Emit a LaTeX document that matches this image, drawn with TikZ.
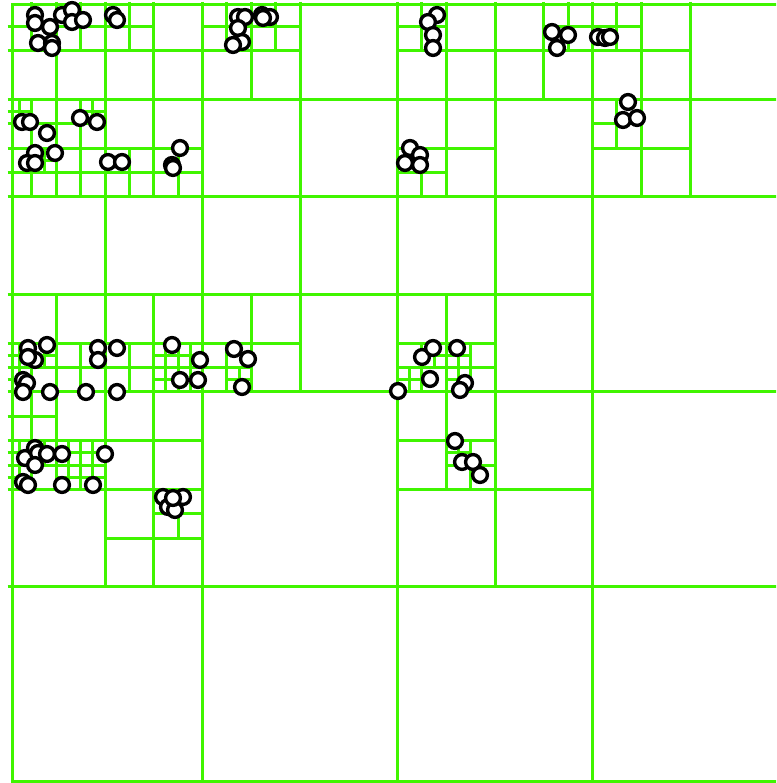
\documentclass[tikz,border=0pt]{standalone}
\definecolor{qgreen}{RGB}{64,245,0}
\begin{document}
\begin{tikzpicture}
\useasboundingbox (0,0) rectangle (776pt,783pt);
\clip (0,0) rectangle (776pt,783pt);
\fill[white] (0,0) rectangle (776pt,783pt);
\tikzset{qline/.style={draw=qgreen, line width=3pt},
  pt/.style={circle, draw=black, line width=3.4pt, fill=white, minimum size=14.8pt, inner sep=0pt}}
\begin{scope}[shift={(7.5pt,781pt)}, x=24.375pt, y=-24.375pt]
\foreach \a/\b/\s in {
 0/0/32,
 0/0/16, 16/0/16, 0/16/16, 16/16/16,
 0/0/8, 8/0/8, 16/0/8, 24/0/8, 0/8/8, 8/8/8, 16/8/8, 0/16/8, 16/16/8,
 0/0/4, 4/0/4, 0/4/4, 4/4/4, 8/0/4, 16/0/4, 20/0/4, 16/4/4, 24/0/4, 24/4/4,
 0/12/4, 4/12/4, 8/12/4, 16/12/4, 0/16/4, 4/16/4, 4/20/4, 16/16/4,
 0/0/2, 2/0/2, 4/0/2, 0/4/2, 2/4/2, 0/6/2, 2/6/2, 4/6/2, 6/6/2,
 8/0/2, 10/0/2, 16/0/2, 22/0/2, 16/6/2, 24/0/2, 24/4/2,
 0/14/2, 2/14/2, 4/14/2, 6/14/2, 8/14/2, 16/14/2, 18/14/2,
 0/16/2, 0/18/2, 2/18/2, 6/20/2, 18/18/2,
 0/4/1, 3/4/1, 1/6/1,
 0/14/1, 1/14/1, 6/14/1, 7/14/1, 6/15/1, 7/15/1, 0/15/1, 9/15/1,
 0/18/1, 1/18/1, 2/18/1, 3/18/1, 2/19/1, 3/19/1, 0/19/1,
 16/15/1, 17/14/1, 18/14/1, 18/15/1, 18/18/1}
{
  \draw[qline] ({\a+\s/2},\b) -- ++(0,\s);
  \draw[qline] (\a,{\b+\s/2}) -- ++(\s,0);
}
\draw[qline] (0.185,0.123) rectangle (32,32);
\end{scope}
\begin{scope}[shift={(0,783pt)}, x=1pt, y=-1pt]
\foreach \p [count=\i] in {
 (35,15),(35,23),(50,27),(38,43),(52,43),(52,48),(62,15),(72,10),(72,22),(83,20),(113,15),(117,20),
 (22,122),(30,122),(47,133),(35,153),(55,153),(27,163),(35,163),(80,118),(97,122),(108,162),(122,162),(180,148),(172,165),(173,168),
 (238,17),(245,17),(238,28),(242,42),(233,45),(262,15),(270,17),(263,18),
 (437,15),(428,22),(433,35),(433,48),(552,32),(568,35),(557,48),(598,37),(605,38),(610,37),(628,102),(623,120),(637,118),(410,148),(420,155),(405,163),(420,165),
 (28,348),(47,345),(35,360),(28,357),(98,348),(117,348),(98,360),(172,345),(200,360),(180,380),(198,380),(23,380),(27,383),(23,392),(50,392),(86,392),(117,392),
 (234,349),(248,359),(242,387),
 (398,391),(422,357),(433,348),(457,348),(430,379),(465,383),(460,390),
 (455,441),(462,462),(473,462),(480,475),
 (25,458),(35,448),(38,453),(47,454),(35,465),(62,454),(105,454),(23,482),(28,485),(62,485),(93,485),(163,497),(168,507),(175,510),(183,497),(173,498)}
 \node[pt] (c\i) at \p {};
\end{scope}
\end{tikzpicture}
\end{document}
